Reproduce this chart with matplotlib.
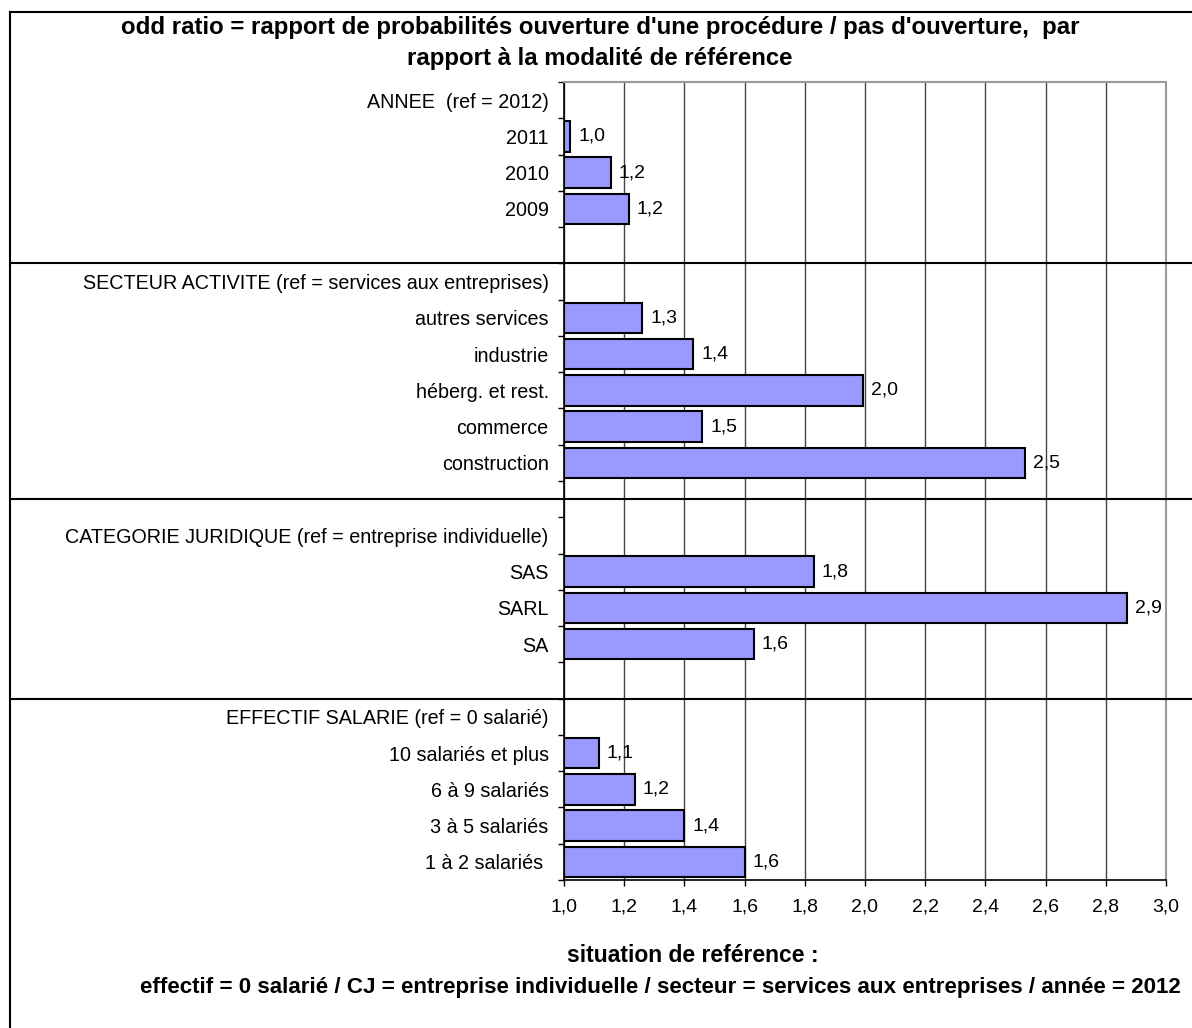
import numpy as np
import matplotlib
matplotlib.use("Agg")
import matplotlib.pyplot as plt
from matplotlib.transforms import blended_transform_factory
from matplotlib.lines import Line2D

plt.rcParams['font.family'] = ['Liberation Sans', 'DejaVu Sans']

# ---- data ----
categories = [
    "ANNEE  (ref = 2012)", "2011", "2010", "2009", "",
    "SECTEUR ACTIVITE (ref = services aux entreprises)",
    "autres services", "industrie", "héberg. et rest.", "commerce", "construction", "",
    "CATEGORIE JURIDIQUE (ref = entreprise individuelle)",
    "SAS", "SARL", "SA", "",
    "EFFECTIF SALARIE (ref = 0 salarié)",
    "10 salariés et plus", "6 à 9 salariés", "3 à 5 salariés", "1 à 2 salariés ",
]
odds = [
    np.nan, 1.02, 1.155, 1.215, np.nan,
    np.nan, 1.26, 1.43, 1.995, 1.46, 2.53, np.nan,
    np.nan, 1.83, 2.87, 1.63, np.nan,
    np.nan, 1.115, 1.235, 1.40, 1.60,
]
xticks = [1.0, 1.2, 1.4, 1.6, 1.8, 2.0, 2.2, 2.4, 2.6, 2.8, 3.0]
xtick_labels = ["1,0", "1,2", "1,4", "1,6", "1,8", "2,0", "2,2", "2,4", "2,6", "2,8", "3,0"]
separators = [4.5, 11.0, 16.5]
title = ("odd ratio = rapport de probabilités ouverture d'une procédure / pas d'ouverture,  par\n"
         "rapport à la modalité de référence")
xlabel1 = "situation de reférence :"
xlabel2 = ("effectif = 0 salarié / CJ = entreprise individuelle / secteur = services aux entreprises"
           " / année = 2012")

W, H = 1192, 1028
fig = plt.figure(figsize=(W / 100, H / 100), dpi=100)
ax = fig.add_axes([564 / W, 1 - 880 / H, (1166 - 564) / W, (880 - 82) / H])

n = len(categories)
ypos = np.arange(n)
base = 1.0
vals = np.array(odds, dtype=float)
mask = ~np.isnan(vals)
ax.barh(ypos[mask], vals[mask] - base, left=base, height=0.84,
        color='#9999FF', edgecolor='black', linewidth=1.5, zorder=3)

for y, v in zip(ypos[mask], vals[mask]):
    ax.annotate(f"{v:.1f}".replace('.', ','), xy=(v, y), xytext=(8, 0),
                textcoords='offset pixels', ha='left', va='center',
                fontsize=14, zorder=4)

ax.set_xlim(1.0, 3.0)
ax.set_ylim(n - 0.5, -0.5)

ax.set_xticks(xticks)
ax.set_xticklabels(xtick_labels, fontsize=14)
ax.tick_params(axis='x', direction='out', length=4, width=1, pad=9, colors='black')

ax.set_yticks(ypos)
ax.set_yticklabels(categories, fontsize=14.2)
ax.tick_params(axis='y', which='major', length=0, pad=11)
ax.set_yticks(np.arange(-0.5, n, 1.0), minor=True)
ax.tick_params(axis='y', which='minor', direction='out', length=4, width=1)

ax.grid(axis='x', color='#444444', linewidth=1.0, zorder=0)
ax.set_axisbelow(True)

for s in ['top', 'right']:
    ax.spines[s].set_color('#999999')
    ax.spines[s].set_linewidth(1.5)
for s in ['left', 'bottom']:
    ax.spines[s].set_color('black')
    ax.spines[s].set_linewidth(1.2)

# separator lines across the chart frame
tr = blended_transform_factory(fig.transFigure, ax.transData)
for sy in separators:
    ax.add_line(Line2D([10 / W, 1.0], [sy, sy], transform=tr, color='black',
                       linewidth=1.5, clip_on=False, zorder=5))

# chart frame (left and top borders)
fig.add_artist(Line2D([10 / W, 10 / W], [0, 1 - 12 / H], transform=fig.transFigure,
                      color='black', linewidth=1.5))
fig.add_artist(Line2D([10 / W, 1.0], [1 - 12 / H, 1 - 12 / H], transform=fig.transFigure,
                      color='black', linewidth=1.5))

fig.text(600 / W, 1 - 43 / H, title, ha='center', va='center', fontsize=17.3,
         fontweight='bold', linespacing=1.4)

fig.text(567 / W, 1 - 955 / H, xlabel1, ha='left', va='center', fontsize=16.5, fontweight='bold')
fig.text(140 / W, 1 - 988 / H, xlabel2, ha='left', va='center', fontsize=16.1, fontweight='bold')

fig.savefig("out.png", dpi=100)
